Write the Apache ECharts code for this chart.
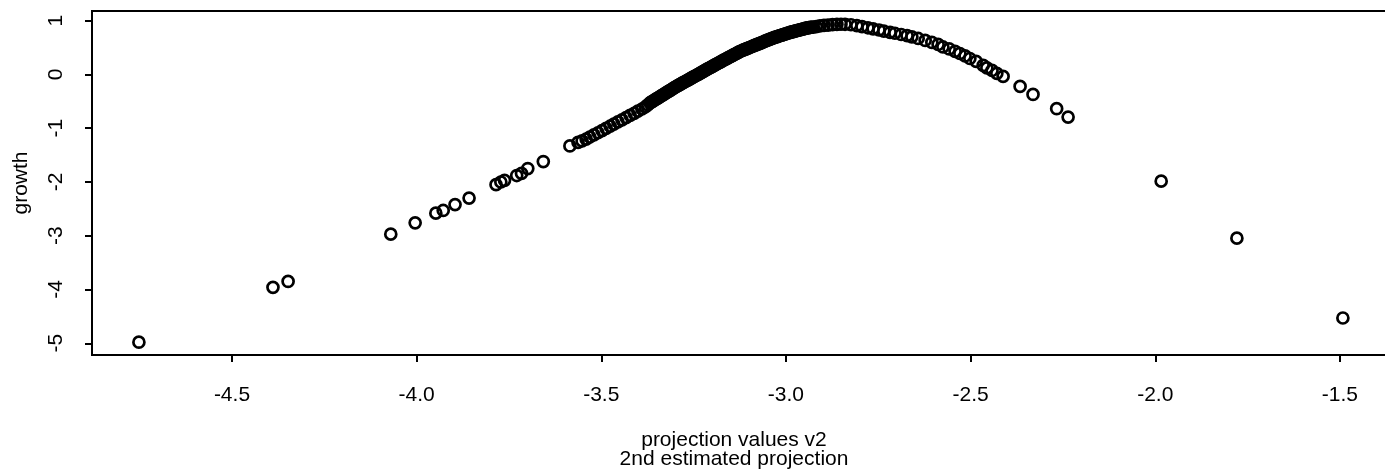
<!DOCTYPE html>
<html>
<head>
    <meta charset="utf-8">
    <title>projection values v2</title>
    <script src="https://cdn.jsdelivr.net/npm/echarts@6/dist/echarts.min.js"></script>
    <style>
      html, body { margin: 0; padding: 0; background: #fff; }
    </style>
</head>
<body>
    <div id="main" style="width:1385px;height:475px;"></div>
    <script type="text/javascript">
      // projection values (x) and growth (y)
      var projection = [
        // lower left, single points
        -4.752, -4.389, -4.348, -4.070, -4.004, -3.948, -3.928, -3.896, -3.858,
        -3.785, -3.772, -3.762, -3.729, -3.716, -3.699, -3.657, -3.585,
        // loose band
        -3.563, -3.552, -3.541, -3.531, -3.520, -3.509, -3.498, -3.487, -3.476, -3.466,
        -3.455, -3.444, -3.433, -3.422, -3.411, -3.401, -3.390, -3.381, -3.374,
        // dense band
        -3.368, -3.361, -3.354, -3.347, -3.340, -3.333, -3.326, -3.319, -3.312, -3.305,
        -3.298, -3.291, -3.284, -3.277, -3.270, -3.263, -3.256, -3.249, -3.242, -3.235,
        -3.228, -3.221, -3.214, -3.207, -3.200, -3.193, -3.186, -3.179, -3.172, -3.165,
        -3.158, -3.151, -3.144, -3.137, -3.130, -3.123, -3.116, -3.109, -3.102, -3.095,
        -3.088, -3.081, -3.074, -3.067, -3.060, -3.053, -3.046, -3.039, -3.032, -3.025,
        -3.018, -3.011, -3.004, -2.997, -2.990, -2.983, -2.976, -2.969, -2.962, -2.955,
        -2.948, -2.941, -2.934, -2.927, -2.918, -2.908, -2.897, -2.886, -2.874, -2.862, -2.851,
        -3.365, -3.358, -3.351, -3.344, -3.337, -3.330, -3.323, -3.316, -3.309, -3.302,
        -3.295, -3.288, -3.281, -3.274, -3.267, -3.260, -3.253, -3.246, -3.239, -3.232,
        -3.225, -3.218, -3.211, -3.204, -3.197, -3.190, -3.183, -3.176, -3.169, -3.162,
        -3.155, -3.148, -3.141, -3.134, -3.127, -3.120, -3.113, -3.106, -3.099, -3.092,
        -3.085, -3.078, -3.071, -3.064, -3.057, -3.050, -3.043, -3.036, -3.029, -3.022,
        -3.015, -3.008, -3.001, -2.994, -2.987, -2.980, -2.973, -2.966, -2.959, -2.952,
        -2.945, -2.938, -2.931,
        // top and right side
        -2.840, -2.824, -2.808, -2.794, -2.778, -2.764, -2.748, -2.735, -2.718, -2.705,
        -2.688, -2.672, -2.659, -2.642, -2.623, -2.605, -2.588, -2.575, -2.558, -2.542,
        -2.529, -2.515, -2.502, -2.485, -2.466, -2.456, -2.442, -2.429, -2.412,
        // right, single points
        -2.366, -2.331, -2.267, -2.236, -1.984, -1.779, -1.492
      ];
      var growth = [
        -4.98, -3.96, -3.85, -2.97, -2.76, -2.58, -2.53, -2.42, -2.30,
        -2.05, -2.00, -1.97, -1.88, -1.84, -1.75, -1.62, -1.33,
        -1.264, -1.236, -1.204, -1.164, -1.125, -1.084, -1.045, -1.004, -0.963, -0.924,
        -0.883, -0.844, -0.803, -0.762, -0.723, -0.682, -0.643, -0.605, -0.565,
        -0.530, -0.500, -0.470, -0.440, -0.410, -0.380, -0.350, -0.320, -0.290, -0.260,
        -0.229, -0.202, -0.175, -0.149, -0.122, -0.095, -0.069, -0.042, -0.015, 0.012,
        0.039, 0.066, 0.093, 0.120, 0.146, 0.173, 0.199, 0.226, 0.252, 0.278,
        0.304, 0.329, 0.355, 0.380, 0.406, 0.431, 0.451, 0.471, 0.491, 0.510,
        0.530, 0.549, 0.569, 0.588, 0.608, 0.628, 0.647, 0.667, 0.685, 0.700,
        0.716, 0.732, 0.747, 0.763, 0.779, 0.792, 0.804, 0.817, 0.829, 0.842,
        0.855, 0.866, 0.874, 0.881, 0.891, 0.902, 0.912, 0.919, 0.925, 0.931, 0.934,
        -0.515, -0.485, -0.455, -0.425, -0.395, -0.365, -0.335, -0.305, -0.275, -0.245,
        -0.216, -0.189, -0.162, -0.136, -0.109, -0.082, -0.056, -0.029, -0.002, 0.026,
        0.053, 0.080, 0.107, 0.133, 0.160, 0.186, 0.213, 0.239, 0.265, 0.291,
        0.317, 0.342, 0.368, 0.393, 0.419, 0.441, 0.461, 0.481, 0.501, 0.520,
        0.540, 0.559, 0.579, 0.598, 0.618, 0.638, 0.657, 0.676, 0.693, 0.708,
        0.724, 0.740, 0.755, 0.771, 0.786, 0.798, 0.811, 0.823, 0.836, 0.849,
        0.861, 0.870, 0.878,
        0.933, 0.924, 0.907, 0.888, 0.868, 0.849, 0.827, 0.807, 0.784, 0.766,
        0.743, 0.721, 0.699, 0.669, 0.632, 0.595, 0.558, 0.511, 0.474, 0.428,
        0.390, 0.344, 0.297, 0.242, 0.167, 0.121, 0.074, 0.019, -0.037,
        -0.223, -0.372, -0.637, -0.793, -1.985, -3.045, -4.530
      ];
      var xTicks = [-4.5, -4.0, -3.5, -3.0, -2.5, -2.0, -1.5];
      var yTicks = [-5, -4, -3, -2, -1, 0, 1];

      var points = projection.map(function (x, i) { return [x, growth[i]]; });

      var font = 'Liberation Sans, Arial, Helvetica, sans-serif';
      var echart = echarts.init(document.getElementById('main'));
      var option = {
        animation: false,
        backgroundColor: '#fff',
        textStyle: { fontFamily: font },
        grid: {
          left: 92, top: 11, right: -7, bottom: 120,
          show: true, borderColor: '#000', borderWidth: 2,
          outerBoundsMode: 'none'
        },
        xAxis: {
          type: 'value',
          min: -4.879, max: -1.359,
          axisLine: { show: false, onZero: false },
          axisTick: { show: true, length: 7, customValues: xTicks, lineStyle: { color: '#000', width: 2 } },
          axisLabel: {
            customValues: xTicks, margin: 30, fontSize: 21, color: '#000', fontFamily: font,
            formatter: function (v) { return v.toFixed(1); }
          },
          splitLine: { show: false }
        },
        yAxis: {
          type: 'value',
          min: -5.218, max: 1.18,
          name: 'growth', nameLocation: 'middle', nameGap: 60, nameRotate: 90,
          nameTextStyle: { fontSize: 21, color: '#000', fontFamily: font },
          axisLine: { show: false, onZero: false },
          axisTick: { show: true, length: 7, customValues: yTicks, lineStyle: { color: '#000', width: 2 } },
          axisLabel: {
            customValues: yTicks, rotate: 90, margin: 25, fontSize: 21, color: '#000', fontFamily: font
          },
          splitLine: { show: false }
        },
        graphic: [
          {
            type: 'text', x: 734, y: 440,
            style: { text: 'projection values v2', font: '21px ' + font, fill: '#000', align: 'center', verticalAlign: 'middle' }
          },
          {
            type: 'text', x: 734, y: 459,
            style: { text: '2nd estimated projection', font: '21px ' + font, fill: '#000', align: 'center', verticalAlign: 'middle' }
          }
        ],
        series: [{
          type: 'scatter',
          data: points,
          symbol: 'circle',
          symbolSize: 11,
          silent: true,
          itemStyle: { color: 'rgba(0,0,0,0)', borderColor: '#000', borderWidth: 2.7, opacity: 1 }
        }]
      };
      echart.setOption(option);
    </script>
</body>
</html>
